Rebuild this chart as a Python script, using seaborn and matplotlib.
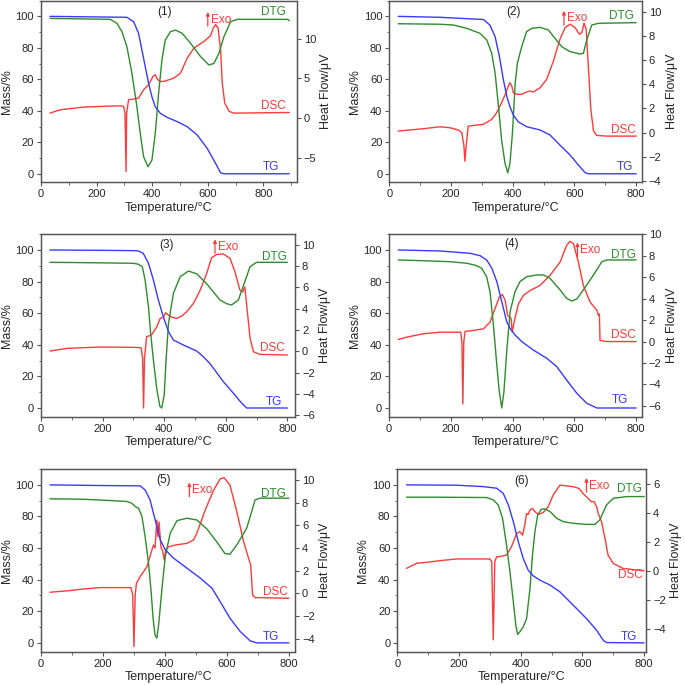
import matplotlib
matplotlib.use("Agg")
import matplotlib.pyplot as plt
import seaborn as sns
import pandas as pd
from matplotlib.ticker import MultipleLocator

# ---------------- data ----------------
# Panel 1
p1_tg_t = [32, 309, 333, 351, 363, 375, 387, 399, 411, 429, 454, 490, 526, 562, 598, 628, 646, 658, 893]
p1_tg_m = [100, 99.4, 96.6, 89.2, 78.6, 68, 57.4, 48.9, 42.6, 38.4, 35.8, 33.1, 29.9, 24.6, 16.1, 6.6, 0.6, 0, 0]
p1_dtg_t = [32, 249, 273, 291, 309, 327, 345, 357, 369, 385, 399, 411, 423, 435, 447, 466, 484, 508, 538, 574, 604, 622, 640, 658, 682, 706, 887, 893]
p1_dtg_m = [98.7, 98.1, 95.6, 90.3, 80.7, 63.8, 42.6, 25.6, 10.8, 4.4, 8.7, 25.6, 51, 72.3, 85, 90.3, 91.3, 89.2, 82.9, 74.4, 69.1, 70.1, 76.5, 87.1, 96.6, 98.1, 98.1, 97.3]
p1_dsc_t = [32, 69, 153, 213, 285, 297, 302, 306, 308, 315, 333, 351, 369, 387, 403, 411, 420, 429, 442, 478, 502, 526, 550, 586, 610, 620, 628, 637, 646, 652, 661, 677, 695, 893]
p1_dsc_h = [0.63, 1.05, 1.39, 1.47, 1.55, 1.47, 0.63, -6.72, 0.63, 2.31, 2.40, 2.52, 3.57, 4.2, 5.25, 5.46, 4.83, 4.62, 4.62, 5.04, 5.67, 7.56, 8.82, 9.66, 10.38, 11.35, 11.77, 11.35, 8.61, 4.41, 1.89, 0.84, 0.63, 0.71]

# Panel 2
p2_tg_t = [29, 164, 305, 326, 343, 357, 370, 381, 391, 402, 418, 445, 489, 521, 553, 586, 613, 635, 645, 800]
p2_tg_m = [100, 99.4, 98, 94.5, 87, 74.4, 59.5, 49, 42.6, 37.3, 33, 29.9, 27.8, 24.6, 18.2, 11.9, 5.5, 0.6, 0, 0]
p2_dtg_t = [29, 164, 208, 251, 294, 316, 332, 343, 354, 364, 375, 384, 391, 399, 408, 415, 429, 445, 462, 489, 516, 537, 559, 586, 618, 629, 640, 656, 678, 800]
p2_dtg_m = [95.3, 95, 94.5, 92.4, 89.2, 85, 76.5, 63.8, 42.6, 21.4, 6.6, 0.6, 6.6, 25.6, 57.4, 70.1, 80.7, 90.3, 92.4, 93, 91.3, 86, 80.7, 77.6, 76.1, 76.5, 85, 94.5, 95.6, 96]
p2_dsc_t = [29, 110, 164, 197, 224, 235, 242, 245, 249, 256, 305, 332, 348, 364, 378, 386, 391, 397, 402, 413, 429, 445, 456, 467, 489, 510, 532, 553, 570, 586, 602, 616, 624, 631, 638, 645, 653, 662, 672, 705, 800]
p2_dsc_h = [0.14, 0.33, 0.49, 0.41, 0.22, 0, -1.1, -2.35, -1.1, 0.55, 0.69, 1.1, 1.65, 2.48, 3.3, 3.86, 4.13, 3.86, 3.3, 3.17, 3.17, 3.36, 3.44, 3.36, 3.72, 4.41, 5.92, 7.71, 8.68, 8.95, 8.68, 8.13, 8.26, 9.04, 8.54, 5.5, 1.93, 0.14, -0.22, -0.28, -0.28]

# Panel 3
p3_tg_t = [29, 192, 300, 316, 332, 349, 365, 381, 397, 414, 430, 462, 506, 527, 549, 570, 592, 625, 652, 668, 800]
p3_tg_m = [100, 99.8, 99.6, 99.4, 97.9, 91.6, 81, 68.4, 57.8, 48.3, 43, 39.9, 36, 32.5, 28, 22.5, 16.7, 9.3, 3, 0, 0]
p3_dtg_t = [29, 137, 300, 316, 329, 338, 349, 356, 365, 376, 386, 392, 400, 406, 414, 430, 452, 479, 506, 538, 581, 603, 619, 641, 662, 679, 700, 800]
p3_dtg_m = [92.2, 92, 91.6, 91, 89.4, 81, 64.1, 47.3, 30.4, 12, 1, 0, 8, 30, 53.6, 72.6, 83.1, 86.7, 84.9, 78.6, 68.4, 66, 65.2, 68.4, 80, 89.5, 92.2, 92.2]
p3_dsc_t = [29, 83, 192, 300, 325, 330, 333, 336, 343, 359, 376, 387, 397, 405, 414, 425, 441, 457, 473, 495, 517, 538, 554, 571, 592, 614, 630, 646, 655, 662, 668, 679, 690, 711, 800]
p3_dsc_h = [0.03, 0.28, 0.41, 0.38, 0.34, -0.66, -5.31, -0.66, 1.38, 1.54, 2.31, 3.1, 3.2, 3.63, 3.4, 3.2, 3.1, 3.32, 3.72, 4.5, 5.75, 7.32, 8.8, 9.1, 9.15, 8.72, 7.47, 5.75, 5.59, 6.06, 4.34, 1.22, -0.03, -0.28, -0.34]

# Panel 4
p4_tg_t = [30, 165, 262, 295, 316, 333, 349, 365, 381, 392, 408, 430, 467, 511, 543, 575, 608, 640, 673, 800]
p4_tg_m = [100, 99.4, 97.9, 96.4, 93.7, 88.4, 80, 67.3, 54.6, 50.4, 46.2, 42, 36.7, 31.4, 26.2, 17.7, 9.3, 3, 0, 0]
p4_dtg_t = [30, 111, 198, 252, 284, 300, 316, 327, 338, 349, 357, 365, 372, 381, 392, 408, 424, 446, 478, 500, 521, 554, 575, 592, 608, 629, 662, 689, 705, 800]
p4_dtg_m = [93.7, 93.2, 92.6, 91.6, 90.1, 88.4, 83.1, 73.6, 52.5, 27.2, 10.3, 0, 10.3, 35.7, 61, 73.6, 80, 83.1, 84.2, 84.2, 82.1, 74.7, 69.4, 67.7, 69, 74.7, 84.2, 92.6, 93.7, 93.7]
p4_dsc_t = [30, 57, 111, 165, 232, 236, 239, 242, 246, 273, 306, 327, 343, 357, 367, 376, 384, 392, 395, 399, 405, 419, 435, 457, 489, 521, 554, 575, 586, 597, 613, 629, 651, 673, 678, 681, 683, 705, 800]
p4_dsc_h = [0.19, 0.41, 0.72, 0.87, 0.87, -0.06, -5.81, -0.06, 0.94, 1.03, 1.19, 1.81, 3.05, 4.14, 4.39, 3.83, 2.43, 2.27, 2.18, 0.87, 1.81, 3.52, 4.3, 4.76, 5.23, 6.16, 7.41, 8.96, 9.34, 9.12, 7.41, 5.23, 3.67, 2.9, 2.43, 2.58, 0.1, 0, 0]

# Panel 5
p5_tg_t = [29, 191, 320, 336, 352, 363, 374, 385, 401, 428, 471, 514, 552, 578, 610, 643, 675, 697, 800]
p5_tg_m = [100, 99.6, 99.4, 96.8, 90.5, 82, 73.6, 65.2, 58.9, 53.6, 47.3, 41, 34.6, 26.2, 15.6, 7.2, 1.3, 0, 0]
p5_dtg_t = [29, 137, 223, 277, 293, 304, 315, 326, 336, 347, 355, 362, 368, 374, 380, 390, 401, 417, 439, 471, 503, 536, 567, 594, 610, 632, 664, 680, 691, 707, 800]
p5_dtg_m = [91.2, 90.9, 90.1, 89.5, 88.4, 86.3, 85.2, 79.9, 67.3, 50.4, 33.5, 15, 5, 3, 12, 33.5, 54.6, 69.4, 77.4, 78.9, 77.8, 72, 64, 56.5, 56.1, 62, 72.6, 83.1, 90.5, 91.6, 91.6]
p5_dsc_t = [29, 83, 137, 191, 290, 296, 300, 304, 308, 320, 342, 358, 363, 368, 374, 377, 381, 387, 393, 398, 402, 412, 433, 471, 492, 503, 530, 557, 578, 591, 610, 632, 654, 670, 677, 683, 691, 800]
p5_dsc_h = [0.09, 0.21, 0.38, 0.5, 0.5, -0.15, -4.71, -0.15, 0.88, 1.47, 2.35, 3.82, 4.26, 4.0, 6.47, 5.0, 6.3, 4.1, 3.68, 2.94, 3.8, 4.11, 4.26, 4.41, 4.7, 5.3, 7.35, 9.1, 10.1, 10.21, 9.56, 7.21, 4.56, 3.09, 2.5, -0.15, -0.38, -0.44]

# Panel 6
p6_tg_t = [30, 192, 279, 322, 343, 360, 376, 392, 408, 424, 440, 462, 495, 527, 570, 613, 646, 667, 678, 800]
p6_tg_m = [100, 99.8, 98.9, 97.9, 94.7, 87.3, 76.7, 64.1, 53.5, 46.1, 42.5, 39.7, 36.6, 32.3, 23.9, 15.4, 8, 1.7, 0.2, 0]
p6_dtg_t = [30, 138, 289, 311, 327, 341, 354, 365, 376, 384, 390, 397, 408, 419, 430, 438, 446, 455, 467, 478, 495, 516, 538, 570, 613, 640, 656, 678, 700, 743, 800]
p6_dtg_m = [92.2, 92.2, 92, 90.5, 87.3, 78.9, 61.9, 45, 26, 11.2, 5.3, 7, 10.1, 15.4, 34.5, 55.6, 70.4, 81, 84.6, 84.8, 83.1, 78.9, 76.7, 75.7, 75, 75, 77.8, 87.3, 91.5, 92.6, 92.6]
p6_dsc_t = [30, 63, 95, 138, 192, 300, 306, 311, 316, 322, 332, 354, 370, 387, 397, 406, 413, 419, 424, 430, 438, 446, 457, 473, 489, 505, 527, 548, 570, 589, 602, 619, 629, 638, 646, 651, 662, 673, 683, 700, 732, 800]
p6_dsc_h = [0.17, 0.52, 0.59, 0.7, 0.82, 0.82, 0.63, -4.78, 0.63, 0.98, 0.98, 1.09, 1.67, 2.59, 2.71, 2.47, 3.17, 3.97, 3.9, 4.2, 4.32, 4.09, 3.9, 4.04, 4.43, 5.24, 5.93, 5.88, 5.82, 5.7, 5.35, 5.0, 4.78, 4.78, 4.43, 3.97, 3.4, 2.24, 1.08, 0.51, 0.16, 0]

panel_titles = ["(1)", "(2)", "(3)", "(4)", "(5)", "(6)"]

# ---------------- style ----------------
sns.set_style("ticks")
plt.rcParams['font.family'] = ['Liberation Sans', 'DejaVu Sans']

C_TG = "#3a3aff"
C_DTG = "#2e8b2e"
C_DSC = "#ff3b3b"
SPINE = "#555555"

panels = [
    dict(tg=(p1_tg_t, p1_tg_m), dtg=(p1_dtg_t, p1_dtg_m), dsc=(p1_dsc_t, p1_dsc_h),
         pos=[0.0599, 0.7337, 0.3733, 0.2654], xlim=(0, 920), rlim=(-8.1, 14.8), rstep=5,
         title=(445, 102.6), exo=(600, 98), dtg_lab=(880, 102.6), dsc_lab=(880, 43), tg_lab=(858, 4)),
    dict(tg=(p2_tg_t, p2_tg_m), dtg=(p2_dtg_t, p2_dtg_m), dsc=(p2_dsc_t, p2_dsc_h),
         pos=[0.5683, 0.7337, 0.3685, 0.2654], xlim=(0, 818), rlim=(-4.1, 10.9), rstep=2,
         title=(404, 102.6), exo=(566, 98.7), dtg_lab=(791, 100.4), dsc_lab=(800, 27.8), tg_lab=(791, 4.4)),
    dict(tg=(p3_tg_t, p3_tg_m), dtg=(p3_dtg_t, p3_dtg_m), dsc=(p3_dsc_t, p3_dsc_h),
         pos=[0.0599, 0.3917, 0.3708, 0.2664], xlim=(0, 825), rlim=(-6.13, 11.0), rstep=2,
         title=(408, 103.3), exo=(565, 102), dtg_lab=(798, 95.4), dsc_lab=(792, 37.8), tg_lab=(782, 4)),
    dict(tg=(p4_tg_t, p4_tg_m), dtg=(p4_dtg_t, p4_dtg_m), dsc=(p4_dsc_t, p4_dsc_h),
         pos=[0.5679, 0.3917, 0.3689, 0.2664], xlim=(0, 818), rlim=(-7.0, 10.0), rstep=2,
         title=(397, 103.8), exo=(610, 100), dtg_lab=(800, 96.8), dsc_lab=(800, 46.2), tg_lab=(775, 5)),
    dict(tg=(p5_tg_t, p5_tg_m), dtg=(p5_dtg_t, p5_dtg_m), dsc=(p5_dsc_t, p5_dsc_h),
         pos=[0.0599, 0.0488, 0.3708, 0.2664], xlim=(0, 820), rlim=(-5.15, 10.97), rstep=2,
         title=(395, 103.3), exo=(479, 96.8), dtg_lab=(789, 94.3), dsc_lab=(796, 32), tg_lab=(770, 3.6)),
    dict(tg=(p6_tg_t, p6_tg_m), dtg=(p6_dtg_t, p6_dtg_m), dsc=(p6_dsc_t, p6_dsc_h),
         pos=[0.5800, 0.0488, 0.3631, 0.2664], xlim=(0, 806), rlim=(-5.59, 7.04), rstep=2,
         title=(403, 102.5), exo=(613, 99.6), dtg_lab=(791, 97.3), dsc_lab=(795, 42.9), tg_lab=(778, 3.8)),
]

fig = plt.figure(figsize=(6.85, 6.85), dpi=100)
TICK_FS = 8
LAB_FS = 9
TXT_FS = 8.5

for i, p in enumerate(panels):
    ax = fig.add_axes(p["pos"])
    ax2 = ax.twinx()
    ax.set_zorder(ax2.get_zorder() + 1)
    ax.patch.set_visible(False)

    df_tg = pd.DataFrame({"T": p["tg"][0], "v": p["tg"][1]})
    df_dtg = pd.DataFrame({"T": p["dtg"][0], "v": p["dtg"][1]})
    df_dsc = pd.DataFrame({"T": p["dsc"][0], "v": p["dsc"][1]})

    sns.lineplot(data=df_dsc, x="T", y="v", ax=ax2, color=C_DSC, lw=1.0, sort=False, estimator=None)
    sns.lineplot(data=df_dtg, x="T", y="v", ax=ax, color=C_DTG, lw=1.0, sort=False, estimator=None)
    sns.lineplot(data=df_tg, x="T", y="v", ax=ax, color=C_TG, lw=1.0, sort=False, estimator=None)

    ax.set_xlim(*p["xlim"])
    ax.set_ylim(-5.5, 110)
    ax2.set_ylim(*p["rlim"])
    ax.xaxis.set_major_locator(MultipleLocator(200))
    ax.xaxis.set_minor_locator(MultipleLocator(100))
    ax.yaxis.set_major_locator(MultipleLocator(20))
    ax.yaxis.set_minor_locator(MultipleLocator(10))
    ax2.yaxis.set_major_locator(MultipleLocator(p["rstep"]))

    ax.set_xlabel("Temperature/°C", fontsize=LAB_FS, labelpad=2)
    ax.set_ylabel("Mass/%", fontsize=LAB_FS, labelpad=2)
    ax2.set_ylabel("Heat Flow/μV", fontsize=LAB_FS, labelpad=3)
    ax2.set_xlabel("")

    for a in (ax, ax2):
        a.tick_params(axis="both", which="major", labelsize=TICK_FS, length=3, width=0.8,
                      color=SPINE, pad=2)
        a.tick_params(axis="both", which="minor", length=1.8, width=0.6, color=SPINE)
        for s in a.spines.values():
            s.set_visible(True)
            s.set_color(SPINE)
            s.set_linewidth(0.9)

    ax.text(*p["title"], panel_titles[i], ha="center", va="center", fontsize=TXT_FS, color="#222222")
    ex, ey = p["exo"]
    ax.annotate("", xy=(ex, ey + 4.8), xytext=(ex, ey - 4.2),
                arrowprops=dict(arrowstyle="-|>", color=C_DSC, lw=0.9, mutation_scale=5,
                                shrinkA=0, shrinkB=0))
    ax.annotate("Exo", xy=(ex, ey), xytext=(2, 0), textcoords="offset points",
                ha="left", va="center", fontsize=TXT_FS, color=C_DSC)
    ax.text(*p["dtg_lab"], "DTG", ha="right", va="center", fontsize=TXT_FS, color=C_DTG)
    ax.text(*p["dsc_lab"], "DSC", ha="right", va="center", fontsize=TXT_FS, color=C_DSC)
    ax.text(*p["tg_lab"], "TG", ha="right", va="center", fontsize=TXT_FS, color=C_TG)

fig.savefig("out.png", dpi=100)
